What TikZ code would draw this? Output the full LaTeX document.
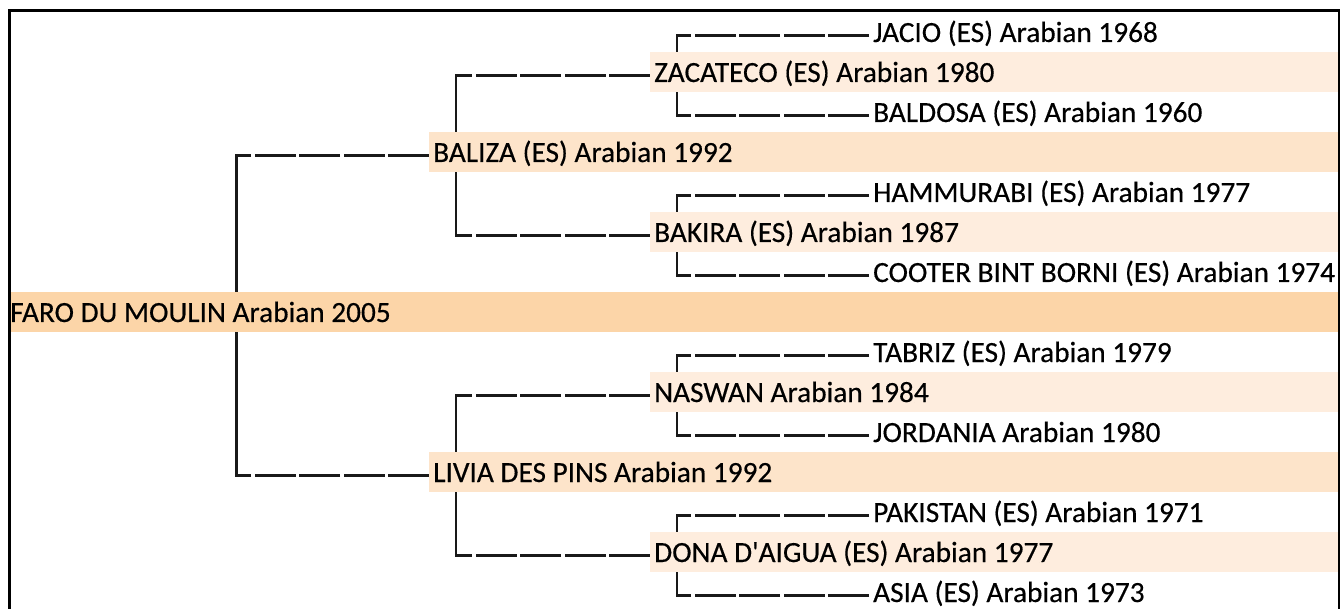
\documentclass[tikz,border=0pt]{standalone}
\usepackage{fontspec}
\newfontfamily\carlito[FakeBold=0.4]{Carlito}
\usetikzlibrary{backgrounds}
\definecolor{cA}{HTML}{FCD5A8}
\definecolor{cB}{HTML}{FDE4CA}
\definecolor{cC}{HTML}{FEEDDE}
\tikzset{
  txt/.style={anchor=west, minimum height=40pt, inner ysep=0pt, inner xsep=4pt,
    text height=20pt, text depth=0pt, font=\carlito\fontsize{29.3}{30}\selectfont, align=flush left},
  gone/.style={txt, fill=cA, inner xsep=0pt, text width=1328pt},
  gtwo/.style={txt, fill=cB, text width=901pt},
  gthree/.style={txt, fill=cC, text width=680pt},
  gfour/.style={txt},
  vline/.style={draw=black!90, line width=2.3pt, line cap=rect},
  dline/.style={draw=black!90, line width=2.3pt, dash pattern=on 41pt off 3.5pt},
  frame/.style={draw=black, line width=2.6pt}
}
\newcommand\famlink[3]{%
  \draw[vline] ([yshift=-3.5pt]#2.west -| #1) -- ([yshift=-3.5pt]#3.west -| #1);
  \draw[dline] ([yshift=-3.5pt]#2.west) -- ([yshift=-3.5pt]#2.west -| #1);
  \draw[dline] ([yshift=-3.5pt]#3.west) -- ([yshift=-3.5pt]#3.west -| #1);
}
\begin{document}
\begin{tikzpicture}[x=1pt, y=-1pt]
\useasboundingbox (0,0) rectangle (1340,609);
% rows: centre y = 32 + 40 i
\node[gfour]  (jacio)     at (869,32)  {JACIO (ES) Arabian 1968};
\node[gthree] (zacateco)  at (650,72)  {ZACATECO (ES) Arabian 1980};
\node[gfour]  (baldosa)   at (869,112) {BALDOSA (ES) Arabian 1960};
\node[gtwo]   (baliza)    at (429,152) {BALIZA (ES) Arabian 1992};
\node[gfour]  (hammurabi) at (869,192) {HAMMURABI (ES) Arabian 1977};
\node[gthree] (bakira)    at (650,232) {BAKIRA (ES) Arabian 1987};
\node[gfour]  (cooter)    at (869,272) {COOTER BINT BORNI (ES) Arabian 1974};
\node[gone]   (faro)      at (10,312)  {FARO DU MOULIN Arabian 2005};
\node[gfour]  (tabriz)    at (869,352) {TABRIZ (ES) Arabian 1979};
\node[gthree] (naswan)    at (650,392) {NASWAN Arabian 1984};
\node[gfour]  (jordania)  at (869,432) {JORDANIA Arabian 1980};
\node[gtwo]   (livia)     at (429,472) {LIVIA DES PINS Arabian 1992};
\node[gfour]  (pakistan)  at (869,512) {PAKISTAN (ES) Arabian 1971};
\node[gthree] (dona)      at (650,552) {DONA D'AIGUA (ES) Arabian 1977};
\node[gfour]  (asia)      at (869,592) {ASIA (ES) Arabian 1973};
% corner coordinates
\coordinate (kfaro) at (236.5,0);
\coordinate (kbaliza) at (456.3,0);
\coordinate (klivia) at (456.3,0);
\coordinate (kzacateco) at (676.7,0);
\coordinate (kbakira) at (676.7,0);
\coordinate (knaswan) at (676.7,0);
\coordinate (kdona) at (676.7,0);
\begin{scope}[on background layer]
  \famlink{kfaro}{baliza}{livia}
  \famlink{kbaliza}{zacateco}{bakira}
  \famlink{klivia}{naswan}{dona}
  \famlink{kzacateco}{jacio}{baldosa}
  \famlink{kbakira}{hammurabi}{cooter}
  \famlink{knaswan}{tabriz}{jordania}
  \famlink{kdona}{pakistan}{asia}
\end{scope}
\draw[frame] (9.5,609) -- (9.5,10.5) -- (1339,10.5) -- (1339,609);
\end{tikzpicture}
\end{document}
